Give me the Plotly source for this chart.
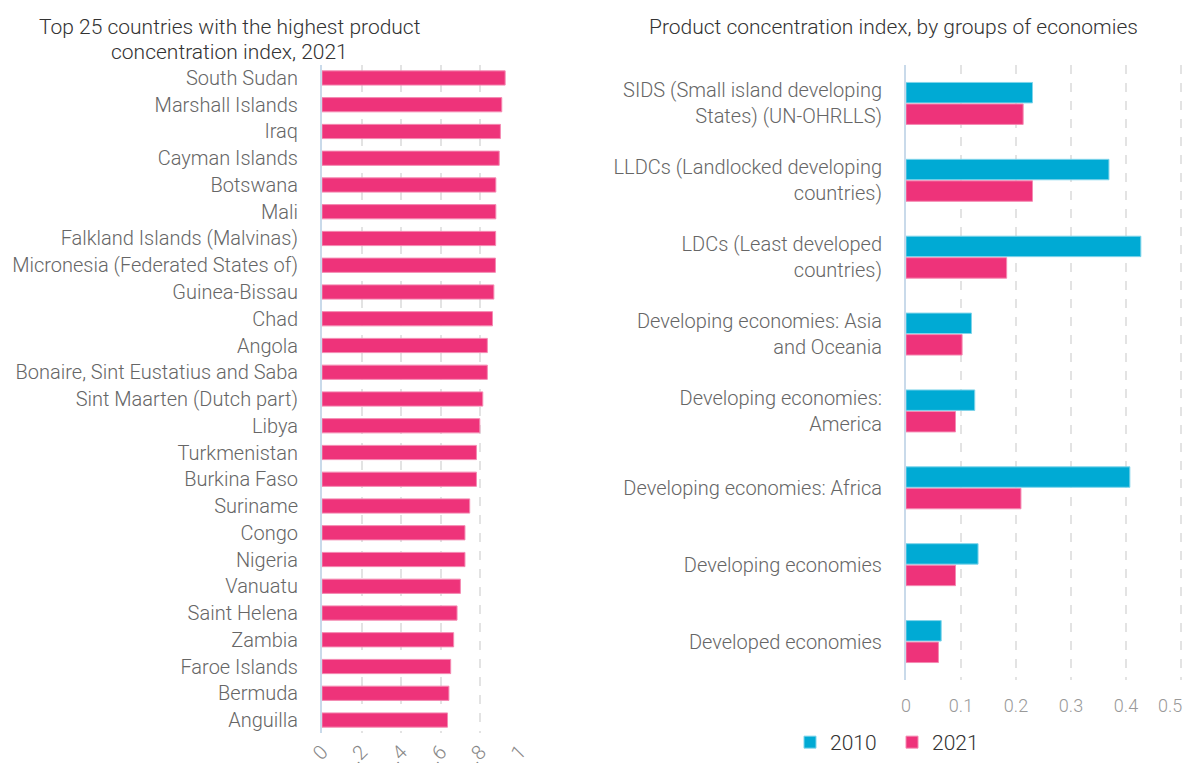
import plotly.graph_objects as go

# ---- Data ----
countries = [
    "South Sudan", "Marshall Islands", "Iraq", "Cayman Islands", "Botswana", "Mali",
    "Falkland Islands (Malvinas)", "Micronesia (Federated States of)", "Guinea-Bissau",
    "Chad", "Angola", "Bonaire, Sint Eustatius and Saba", "Sint Maarten (Dutch part)",
    "Libya", "Turkmenistan", "Burkina Faso", "Suriname", "Congo", "Nigeria", "Vanuatu",
    "Saint Helena", "Zambia", "Faroe Islands", "Bermuda", "Anguilla",
]
country_index_2021 = [
    0.925, 0.908, 0.901, 0.895, 0.878, 0.878, 0.877, 0.876, 0.868, 0.861,
    0.835, 0.835, 0.812, 0.797, 0.780, 0.780, 0.746, 0.722, 0.722, 0.699,
    0.682, 0.665, 0.650, 0.641, 0.634,
]
left_tickvals = [0, 0.2, 0.4, 0.6, 0.8, 1]
left_ticktext = ["0", ".2", ".4", ".6", ".8", "1"]

groups = [
    "SIDS (Small island developing<br>States) (UN-OHRLLS)",
    "LLDCs (Landlocked developing<br>countries)",
    "LDCs (Least developed<br>countries)",
    "Developing economies: Asia<br>and Oceania",
    "Developing economies:<br>America",
    "Developing economies: Africa",
    "Developing economies",
    "Developed economies",
]
group_2010 = [0.230, 0.369, 0.427, 0.119, 0.125, 0.407, 0.131, 0.064]
group_2021 = [0.213, 0.230, 0.183, 0.102, 0.090, 0.209, 0.090, 0.059]
right_tickvals = [0, 0.1, 0.2, 0.3, 0.4, 0.5]
right_ticktext = ["0", "0.1", "0.2", "0.3", "0.4", "0.5\u00a0\u00a0\u00a0\u00a0\u00a0"]

left_title_lines = ["Top 25 countries with the highest product", "concentration index, 2021"]
right_title = "Product concentration index, by groups of economies"

# ---- Styles ----
PINK = "#EE337A"
PINK_LINE = "#F48AB2"
BLUE = "#00AAD4"
BLUE_LINE = "#7FD4EA"
FONT = "Roboto Light, Roboto"
W, H = 1184, 763

def px_x(p):
    return p / W

def px_y(p):
    return 1 - p / H

fig = go.Figure()

fig.add_trace(go.Bar(
    y=countries, x=country_index_2021, orientation="h",
    marker=dict(color=PINK, line=dict(color=PINK_LINE, width=1)),
    xaxis="x", yaxis="y", showlegend=False, name="2021",
))

fig.add_trace(go.Bar(
    y=groups, x=group_2010, orientation="h", name="2010",
    marker=dict(color=BLUE, line=dict(color=BLUE_LINE, width=1)),
    xaxis="x2", yaxis="y2",
))
fig.add_trace(go.Bar(
    y=groups, x=group_2021, orientation="h", name="2021",
    marker=dict(color=PINK, line=dict(color=PINK_LINE, width=1)),
    xaxis="x2", yaxis="y2",
))

tick_font = dict(family=FONT, size=20, color="#666666", weight=300)
num_font = dict(family=FONT, size=18, color="#999999", weight=300)
left_num_font = dict(family=FONT, size=20, color="#888888", weight=300)
title_font = dict(family=FONT, size=21, color="#333333", weight=300)
grid = dict(showgrid=True, gridcolor="#E3E3E3", griddash="dash", gridwidth=2, zeroline=False)

annotations = []
for i, line in enumerate(left_title_lines):
    annotations.append(dict(
        text=line, x=px_x(230), y=px_y(27 + 25 * i), xref="paper", yref="paper",
        xanchor="center", yanchor="middle", showarrow=False, font=title_font,
    ))
annotations.append(dict(
    text=right_title, x=px_x(893), y=px_y(27), xref="paper", yref="paper",
    xanchor="center", yanchor="middle", showarrow=False, font=title_font,
))

fig.update_layout(
    width=W, height=H, autosize=False,
    margin=dict(l=0, r=0, t=0, b=0),
    paper_bgcolor="white", plot_bgcolor="white",
    barmode="group", bargap=0.44, bargroupgap=0.05,
    font=dict(family=FONT, color="#444444"),
    xaxis=dict(
        domain=[px_x(322), px_x(520)], range=[0, 1.0], anchor="y",
        tickmode="array", tickvals=left_tickvals, ticktext=left_ticktext,
        tickangle=-45, tickfont=left_num_font, ticks="", ticklabelstandoff=2,
        automargin=False, fixedrange=True, **grid,
    ),
    yaxis=dict(
        domain=[px_y(733.4), px_y(64.6)], anchor="x", autorange="reversed",
        tickfont=tick_font, ticks="", ticklabelstandoff=18,
        showline=True, linecolor="#C9DAEA", linewidth=2,
        showgrid=False, automargin=False,
    ),
    xaxis2=dict(
        domain=[px_x(906), px_x(1183.75)], range=[0, 0.505], anchor="y2",
        tickmode="array", tickvals=right_tickvals, ticktext=right_ticktext,
        tickfont=num_font, ticks="", ticklabelstandoff=13,
        ticklabeloverflow="allow",
        automargin=False, **grid,
    ),
    yaxis2=dict(
        domain=[px_y(680), px_y(65)], anchor="x2", autorange="reversed",
        tickfont=tick_font, ticks="", ticklabelstandoff=18,
        showline=True, linecolor="#C9DAEA", linewidth=2,
        showgrid=False, automargin=False,
    ),
    legend=dict(
        orientation="h", x=px_x(790), xanchor="left", y=0, yanchor="bottom",
        font=dict(family=FONT, size=21, color="#333333", weight=300),
        itemwidth=30, entrywidth=57, entrywidthmode="pixels",
        traceorder="normal", bgcolor="rgba(0,0,0,0)",
    ),
    annotations=annotations,
)

fig.write_html(
    "out.html",
    config={"responsive": False, "displayModeBar": False},
    post_script="document.body.style.margin='0';document.body.style.overflow='hidden';",
)
